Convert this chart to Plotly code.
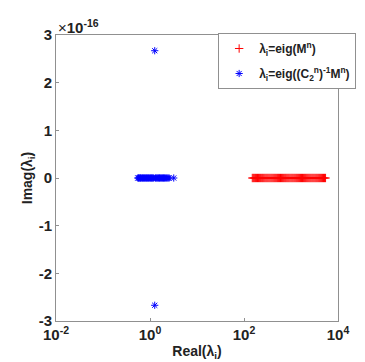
import plotly.graph_objects as go

red_re = [150, 158, 166, 175, 184, 194, 204, 215, 226, 238, 250, 263, 277, 292, 307,
          323, 340, 358, 377, 397, 418, 440, 463, 487, 513, 540, 568, 598, 630, 663,
          698, 735, 773, 814, 857, 902, 950, 1000, 1053, 1108, 1167, 1228, 1293, 1361,
          1433, 1508, 1588, 1671, 1759, 1852, 1950, 2052, 2160, 2274, 2394, 2520, 2653,
          2793, 2940, 3095, 3258, 3430, 3610, 3800, 4000, 4210, 4432, 4666, 4912, 5170,
          5440]
red_im = [0.0] * len(red_re)

blue_re = [0.55, 0.57, 0.59, 0.61, 0.63, 0.65, 0.68, 0.70, 0.73, 0.76, 0.79, 0.82,
           0.85, 0.88, 0.92, 0.95, 0.99, 1.03, 1.07, 1.11, 1.15, 1.20, 1.26, 1.26, 1.30,
           1.35, 1.41, 1.47, 1.53, 1.59, 1.65, 1.72, 1.79, 1.86, 1.94, 2.02, 2.10, 2.20,
           2.30, 2.42, 2.55, 3.2]
blue_im = [0, 0, 0, 0, 0, 0, 0, 0, 0, 0, 0, 0, 0, 0, 0, 0, 0, 0, 0, 0, 0, 0, 2.67,
           -2.67, 0, 0, 0, 0, 0, 0, 0, 0, 0, 0, 0, 0, 0, 0, 0, 0, 0, 0]  # units of 1e-16

x_ticks = [0.01, 1, 100, 10000]
x_tick_text = ["10<sup>-2</sup>", "10<sup>0</sup>", "10<sup>2</sup>", "10<sup>4</sup>"]
y_ticks = [-3, -2, -1, 0, 1, 2, 3]

font = "Liberation Sans, Arial, sans-serif"

fig = go.Figure()
fig.add_trace(go.Scatter(
    x=red_re, y=red_im, mode="markers", legendgroup="a",
    name="<b>λ<sub>i</sub>=eig(M<sup>n</sup>)</b>",
    marker=dict(symbol="cross-thin", size=6, line=dict(color="#ff0000", width=1), color="#ff0000"),
))
fig.add_trace(go.Scatter(
    x=blue_re, y=blue_im, mode="markers", legendgroup="b",
    name="<b>λ<sub>i</sub>=eig((C<sub>2</sub><sup>n</sup>)<sup>-1</sup>M<sup>n</sup>)</b>",
    marker=dict(symbol="asterisk", size=6, line=dict(color="#0000ff", width=1), color="#0000ff"),
))

axis_common = dict(
    showgrid=False, zeroline=False, showline=True, linecolor="#909090", linewidth=1,
    mirror=True, ticks="inside", ticklen=3, tickcolor="#909090",
    tickfont=dict(family=font, size=15, color="#222222"),
)

fig.update_layout(
    width=365, height=362,
    margin=dict(l=48, r=35, t=27, b=49),
    paper_bgcolor="white", plot_bgcolor="white",
    font=dict(family=font, color="#222222"),
    showlegend=True,
    legend=dict(x=0.575, y=1.007, xanchor="left", yanchor="top",
                bordercolor="#909090", borderwidth=1, bgcolor="white",
                font=dict(family=font, size=12, color="#222222"),
                tracegroupgap=6, itemwidth=30),
    xaxis=dict(type="log", range=[-2, 4], tickvals=x_ticks,
               ticktext=[f"<b>{t}</b>" for t in x_tick_text],
               title=dict(text="<b>Real(λ<sub>i</sub>)</b>", font=dict(family=font, size=14), standoff=4),
               **axis_common),
    yaxis=dict(range=[-3, 3], tickvals=y_ticks, ticktext=[f"<b>{v}</b>" for v in y_ticks],
               title=dict(text="<b>Imag(λ<sub>i</sub>)</b>", font=dict(family=font, size=14), standoff=2),
               **axis_common),
)

fig.add_annotation(text="×<b>10<sup>-16</sup></b>", xref="paper", yref="paper",
                   x=0, y=1.0, xanchor="left", yanchor="bottom", showarrow=False,
                   font=dict(family=font, size=15, color="#222222"), yshift=-3)

fig.write_html("out.html")
